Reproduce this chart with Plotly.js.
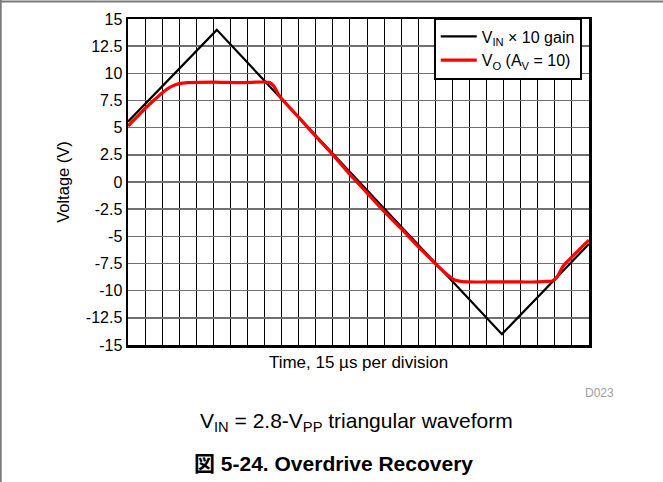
<!DOCTYPE html>
<html>
<head>
<meta charset="utf-8">
<script src="https://cdn.plot.ly/plotly-3.0.1.min.js"></script>
<style>html,body{margin:0;padding:0;background:#fff;}#chart{width:663px;height:482px;}</style>
</head>
<body>
<div id="chart"></div>
<script>
// Time in divisions (15 µs per division)
const vinX = [0, 5.2, 21.9, 27];
const vinY = [5.55, 14, -14, -5.7];

const voX = [0, 0.5, 1, 1.5, 2, 2.5, 3, 3.5, 5, 6.5, 8, 8.3, 8.55, 8.8, 9.0, 10, 11, 12, 13, 14, 15, 16, 17, 18, 18.6, 19.1, 19.5, 20, 21, 22, 23, 24, 24.6, 24.85, 25.1, 25.5, 26, 26.5, 27];
const voY = [5.15, 5.95, 6.75, 7.5, 8.2, 8.75, 9.05, 9.15, 9.2, 9.15, 9.2, 9.15, 8.8, 8.1, 7.65, 5.95, 4.2, 2.5, 0.7, -1.0, -2.7, -4.3, -5.95, -7.5, -8.4, -9.0, -9.15, -9.2, -9.2, -9.2, -9.2, -9.2, -9.15, -9.1, -8.8, -7.7, -6.9, -6.1, -5.35];

const yTickVals = [-15, -12.5, -10, -7.5, -5, -2.5, 0, 2.5, 5, 7.5, 10, 12.5, 15];
const yTickText = ["-15", "-12.5", "-10", "-7.5", "-5", "-2.5", "0", "2.5", "5", "7.5", "10", "12.5", "15"];

const FONT = "Liberation Sans, Arial, Helvetica, Noto Sans CJK JP, sans-serif";

const traces = [
  {x: vinX, y: vinY, mode: "lines", name: "V<sub>IN</sub> × 10 gain",
   line: {color: "#000000", width: 2.2}},
  {x: voX, y: voY, mode: "lines", name: "V<sub>O</sub> (A<sub>V</sub> = 10)",
   line: {color: "#ff0000", width: 3.2, shape: "spline", smoothing: 0.6}}
];

const L = 128, R = 588.6, T = 19, B = 345;
const pw = R - L, ph = B - T;
const px = v => (v - L) / pw;
const py = v => (B - v) / ph;

const layout = {
  width: 663, height: 482,
  margin: {l: L, r: 663 - R, t: T, b: 482 - B, pad: 0},
  paper_bgcolor: "#ffffff", plot_bgcolor: "#ffffff",
  font: {family: FONT, color: "#000", size: 16},
  showlegend: true,
  legend: {x: px(433.5), y: py(17.5), xanchor: "left", yanchor: "top",
    bgcolor: "#ffffff", bordercolor: "#000000", borderwidth: 2, itemwidth: 36,
    font: {family: FONT, size: 16, color: "#000"}},
  xaxis: {range: [0, 27], dtick: 1, tick0: 0, showticklabels: false, ticks: "",
    showgrid: true, gridcolor: "#000000", gridwidth: 1, zeroline: false,
    showline: true, linecolor: "#000000", linewidth: 2.5, mirror: true,
    fixedrange: true,
    title: {text: "Time, 15 µs per division", font: {family: FONT, size: 17, color: "#000"}, standoff: 10}},
  yaxis: {range: [-15, 15], tickvals: yTickVals, ticktext: yTickText, ticks: "",
    showgrid: true, gridcolor: "#707070", gridwidth: 1.5, zeroline: false,
    showline: true, linecolor: "#000000", linewidth: 2.5, mirror: true,
    tickfont: {family: FONT, size: 16, color: "#000"},
    fixedrange: true,
    title: {text: "Voltage (V)", font: {family: FONT, size: 16.5, color: "#000"}, standoff: 12}},
  shapes: [
    {type: "line", xref: "paper", yref: "paper", x0: px(0), x1: px(663), y0: py(1.5), y1: py(1.5),
     line: {color: "#7a7a7a", width: 2}},
    {type: "line", xref: "paper", yref: "paper", x0: px(0.8), x1: px(0.8), y0: py(0), y1: py(482),
     line: {color: "#7a7a7a", width: 2}}
  ],
  annotations: [
    {xref: "paper", yref: "paper", x: px(599), y: py(392.5), text: "D023", showarrow: false,
     xanchor: "center", yanchor: "middle", font: {family: FONT, size: 12, color: "#a0a0a0"}},
    {xref: "paper", yref: "paper", x: px(356), y: py(421.5), text: "V<sub>IN</sub> = 2.8-V<sub>PP</sub> triangular waveform",
     showarrow: false, xanchor: "center", yanchor: "middle", font: {family: FONT, size: 21, color: "#000"}},
    {xref: "paper", yref: "paper", x: px(333), y: py(463), text: "<b>図 5-24. Overdrive Recovery</b>",
     showarrow: false, xanchor: "center", yanchor: "middle", font: {family: FONT, size: 21, color: "#000"}}
  ]
};

Plotly.newPlot("chart", traces, layout, {staticPlot: true, displayModeBar: false});
</script>
</body>
</html>
